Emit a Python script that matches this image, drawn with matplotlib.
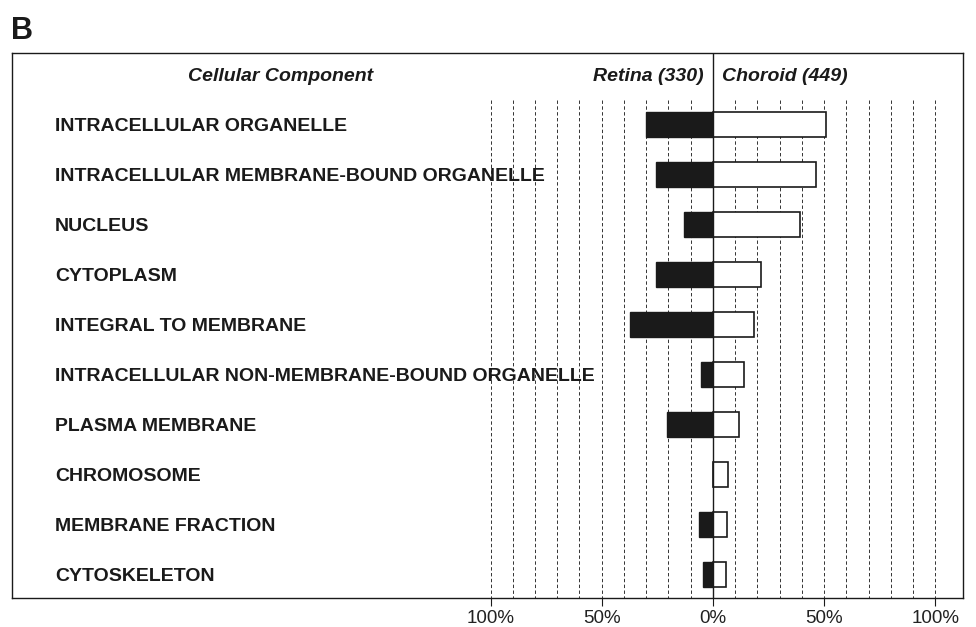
#!/usr/bin/env python3
# -*- coding: utf-8 -*-
"""
Cellular Component comparison chart: Retina vs Choroid (panel B)
"""

import matplotlib
matplotlib.use('Agg')
import matplotlib.pyplot as plt
import matplotlib.transforms as mtransforms

plt.rcParams['font.family'] = ['Liberation Sans', 'DejaVu Sans']

# categories (top to bottom)
categories = [
    'INTRACELLULAR ORGANELLE',
    'INTRACELLULAR MEMBRANE-BOUND ORGANELLE',
    'NUCLEUS',
    'CYTOPLASM',
    'INTEGRAL TO MEMBRANE',
    'INTRACELLULAR NON-MEMBRANE-BOUND ORGANELLE',
    'PLASMA MEMBRANE',
    'CHROMOSOME',
    'MEMBRANE FRACTION',
    'CYTOSKELETON',
]

# percentages of annotated genes
retina_pct = [30.0, 25.8, 13.0, 25.8, 37.3, 5.5, 20.6, 0.0, 6.3, 4.5]
choroid_pct = [50.8, 46.3, 39.2, 21.8, 18.6, 13.8, 11.5, 6.6, 6.3, 5.9]

tick_pos = [-100, -50, 0, 50, 100]
tick_labels = ['100%', '50%', '0%', '50%', '100%']
grid_pos = [v for v in range(-100, 101, 10) if v != 0]

header_left = 'Cellular Component'
header_retina = 'Retina (330)'
header_choroid = 'Choroid (449)'


def main(output_path='out.png'):
    fig = plt.figure(figsize=(9.76, 6.27), dpi=100, facecolor='white')
    ax = fig.add_axes([0.0123, 0.0463, 0.9744, 0.8692])

    n = len(categories)
    ys = list(range(n))

    # 虚线网格
    ax.vlines(grid_pos, -0.5, n - 0.54, colors='#333333',
              linestyles=(0, (3.5, 2.5)), linewidth=0.7, zorder=1)

    # 条形
    ax.barh(ys, [-v for v in retina_pct], height=0.5, color='#1a1a1a',
            edgecolor='#1a1a1a', linewidth=1.0, zorder=3)
    ax.barh(ys, choroid_pct, height=0.5, color='white',
            edgecolor='#1a1a1a', linewidth=1.2, zorder=3)

    # 零线
    ax.axvline(0, color='#1a1a1a', linewidth=1.0, zorder=4)

    ax.set_xlim(-315.1, 112.4)
    ax.set_ylim(n - 0.54, -1.44)

    ax.set_xticks(tick_pos)
    ax.set_xticklabels(tick_labels, fontsize=13.5, color='#222222')
    ax.tick_params(axis='x', direction='out', length=6, width=0.8,
                   pad=3, color='#1a1a1a')
    ax.set_yticks([])
    for sp in ax.spines.values():
        sp.set_linewidth(1.0)
        sp.set_color('#1a1a1a')

    # 类别标签
    trans = mtransforms.blended_transform_factory(ax.transAxes, ax.transData)
    for y, name in zip(ys, categories):
        ax.text(0.045, y + 0.035, name, transform=trans, ha='left', va='center',
                fontsize=14, fontweight='bold', color='#1a1a1a', zorder=5)

    # 表头
    ax.text(0.282, -0.97, header_left, transform=trans, ha='center', va='center',
            fontsize=14, fontweight='bold', style='italic', color='#1a1a1a')
    ax.text(-4, -0.97, header_retina, ha='right', va='center',
            fontsize=14, fontweight='bold', style='italic', color='#1a1a1a')
    ax.text(4, -0.97, header_choroid, ha='left', va='center',
            fontsize=14, fontweight='bold', style='italic', color='#1a1a1a')

    # 面板字母
    fig.text(0.011, 0.974, 'B', ha='left', va='top', fontsize=22,
             fontweight='bold', color='#1a1a1a')

    fig.savefig(output_path, dpi=100, facecolor='white')
    plt.close(fig)


if __name__ == '__main__':
    main()
